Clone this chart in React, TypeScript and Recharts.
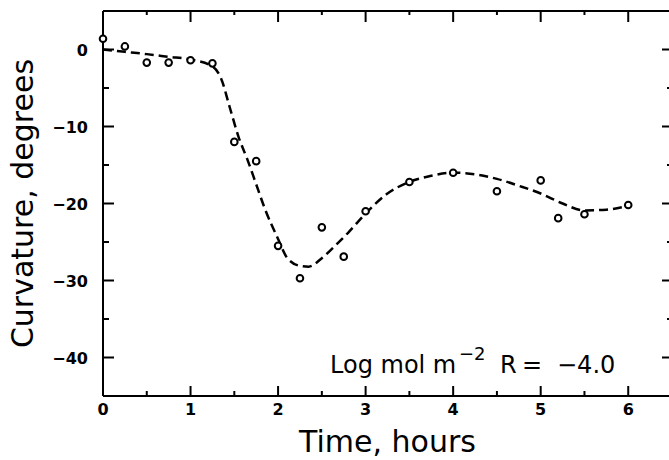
import React from 'react';
import { ComposedChart, Line, Scatter, XAxis, YAxis, Label } from 'recharts';

// Measured data points (open circles)
const timeHours = [0, 0.25, 0.5, 0.75, 1.0, 1.25, 1.5, 1.75, 2.0, 2.25, 2.5, 2.75, 3.0, 3.5, 4.0, 4.5, 5.0, 5.2, 5.5, 6.0];
const curvatureDeg = [1.4, 0.4, -1.7, -1.7, -1.4, -1.8, -12.0, -14.5, -25.5, -29.7, -23.1, -26.9, -21.0, -17.2, -16.0, -18.4, -17.0, -21.9, -21.4, -20.2];

// Fitted (dashed) curve
const fitTime = [0, 0.25, 0.5, 0.75, 1, 1.25, 1.35, 1.45, 1.55, 1.65, 1.75, 1.85, 2, 2.1, 2.25, 2.35, 2.5, 2.65, 2.8, 3, 3.25, 3.5, 3.75, 4, 4.25, 4.5, 4.75, 5, 5.25, 5.5, 5.75, 6];
const fitCurvature = [0, -0.3, -0.6, -0.95, -1.3, -2.2, -3.8, -7.6, -11.4, -14.3, -17.5, -20.7, -24.6, -27.0, -28.1, -28.2, -27.1, -25.5, -23.8, -21.3, -18.7, -17.2, -16.4, -16.0, -16.2, -16.8, -17.7, -18.7, -20.0, -20.9, -20.8, -20.3];

const xTicks = [0, 0.5, 1, 1.5, 2, 2.5, 3, 3.5, 4, 4.5, 5, 5.5, 6];
const yTicks = [-40, -35, -30, -25, -20, -15, -10, -5, 0];
const xDomain: [number, number] = [0, 6.5];
const yDomain: [number, number] = [-45, 5];

const xTitle = 'Time, hours';
const yTitle = 'Curvature, degrees';

const points = timeHours.map((t, i) => ({ t, c: curvatureDeg[i] }));
const fit = fitTime.map((t, i) => ({ t, c: fitCurvature[i] }));

const FONT = "'DejaVu Sans', 'Liberation Sans', sans-serif";
const fmt = (v: number) => (v < 0 ? `\u2212${Math.abs(v)}` : `${v}`);
const isMajorX = (v: number) => Number.isInteger(v);
const isMajorY = (v: number) => v % 10 === 0;

function BottomTick(props: any) {
  const { x, y, payload } = props;
  const v = payload.value;
  const major = isMajorX(v);
  return (
    <g>
      <line x1={x} y1={y} x2={x} y2={y - (major ? 10 : 5)} stroke="#000" strokeWidth={2} />
      {major && (
        <text x={x} y={y + 19} textAnchor="middle" fontFamily={FONT} fontWeight="bold" fontSize={16} fill="#000">
          {fmt(v)}
        </text>
      )}
    </g>
  );
}

function TopTick(props: any) {
  const { x, y, payload } = props;
  const major = isMajorX(payload.value);
  return <line x1={x} y1={y} x2={x} y2={y + (major ? 11 : 4)} stroke="#000" strokeWidth={2} />;
}

function LeftTick(props: any) {
  const { x, y, payload } = props;
  const v = payload.value;
  const major = isMajorY(v);
  return (
    <g>
      <line x1={x} y1={y} x2={x + (major ? 11 : 6)} y2={y} stroke="#000" strokeWidth={2} />
      {major && (
        <text x={x - 15} y={y + 6} textAnchor="end" fontFamily={FONT} fontWeight="bold" fontSize={16} fill="#000">
          {fmt(v)}
        </text>
      )}
    </g>
  );
}

function RightTick(props: any) {
  const { x, y, payload } = props;
  const major = isMajorY(payload.value);
  return <line x1={x} y1={y} x2={x - (major ? 10 : 5)} y2={y} stroke="#000" strokeWidth={2} />;
}

function Circle(props: any) {
  const { cx, cy } = props;
  return <circle cx={cx} cy={cy} r={3.3} fill="#fff" stroke="#000" strokeWidth={2} />;
}

const axisLine = { stroke: '#000', strokeWidth: 2 };

export default function App() {
  return (
    <div style={{ position: 'absolute', left: 0, top: 0, width: 669, height: 460, overflow: 'hidden', background: '#fff' }}>
      <ComposedChart width={680} height={460} margin={{ top: 10, right: 7, bottom: 0, left: 0 }}>
        <XAxis
          dataKey="t"
          type="number"
          domain={xDomain}
          ticks={xTicks}
          interval={0}
          height={64}
          tickSize={0}
          tickMargin={0}
          tickLine={false}
          axisLine={axisLine}
          tick={BottomTick}
        >
          <Label
            content={(p: any) => {
              const vb = p.viewBox;
              return (
                <text x={vb.x + vb.width / 2} y={vb.y + 56} textAnchor="middle" fontFamily={FONT} fontSize={30} fill="#000">
                  {xTitle}
                </text>
              );
            }}
          />
        </XAxis>
        <XAxis
          xAxisId="top"
          orientation="top"
          dataKey="t"
          type="number"
          domain={xDomain}
          ticks={xTicks}
          interval={0}
          height={1}
          tickSize={0}
          tickMargin={0}
          tickLine={false}
          axisLine={axisLine}
          tick={TopTick}
        />
        <YAxis
          dataKey="c"
          type="number"
          domain={yDomain}
          ticks={yTicks}
          interval={0}
          width={103}
          tickSize={0}
          tickMargin={0}
          tickLine={false}
          axisLine={axisLine}
          tick={LeftTick}
        >
          <Label
            content={(p: any) => {
              const vb = p.viewBox;
              const cx = 33;
              const cy = vb.y + vb.height / 2;
              return (
                <text x={cx} y={cy} transform={`rotate(-90 ${cx} ${cy})`} textAnchor="middle" fontFamily={FONT} fontSize={30} fill="#000">
                  {yTitle}
                </text>
              );
            }}
          />
        </YAxis>
        <YAxis
          yAxisId="right"
          orientation="right"
          dataKey="c"
          type="number"
          domain={yDomain}
          ticks={yTicks}
          interval={0}
          width={1}
          tickSize={0}
          tickMargin={0}
          tickLine={false}
          axisLine={axisLine}
          tick={RightTick}
        />
        <Line
          data={fit}
          dataKey="c"
          type="monotone"
          stroke="#000"
          strokeWidth={2.5}
          strokeDasharray="9 5"
          dot={false}
          activeDot={false}
          isAnimationActive={false}
        />
        <Line
          data={fit}
          dataKey="c"
          xAxisId="top"
          yAxisId="right"
          type="monotone"
          stroke="none"
          dot={false}
          activeDot={false}
          legendType="none"
          isAnimationActive={false}
        />
        <Scatter data={points} dataKey="c" shape={Circle} isAnimationActive={false} />
      </ComposedChart>
      <svg width={669} height={460} style={{ position: 'absolute', left: 0, top: 0, pointerEvents: 'none' }}>
        <text x={330} y={373} fontFamily={FONT} fontSize={24} fill="#000">Log mol m</text>
        <text y={360} fontFamily={FONT} fontSize={18} fill="#000">
          <tspan x={459}>{'\u2212'}</tspan>
          <tspan x={474}>2</tspan>
        </text>
        <text y={373} fontFamily={FONT} fontSize={24} fill="#000">
          <tspan x={500}>R</tspan>
          <tspan x={522}>=</tspan>
          <tspan x={557}>{'\u22124.0'}</tspan>
        </text>
      </svg>
    </div>
  );
}
